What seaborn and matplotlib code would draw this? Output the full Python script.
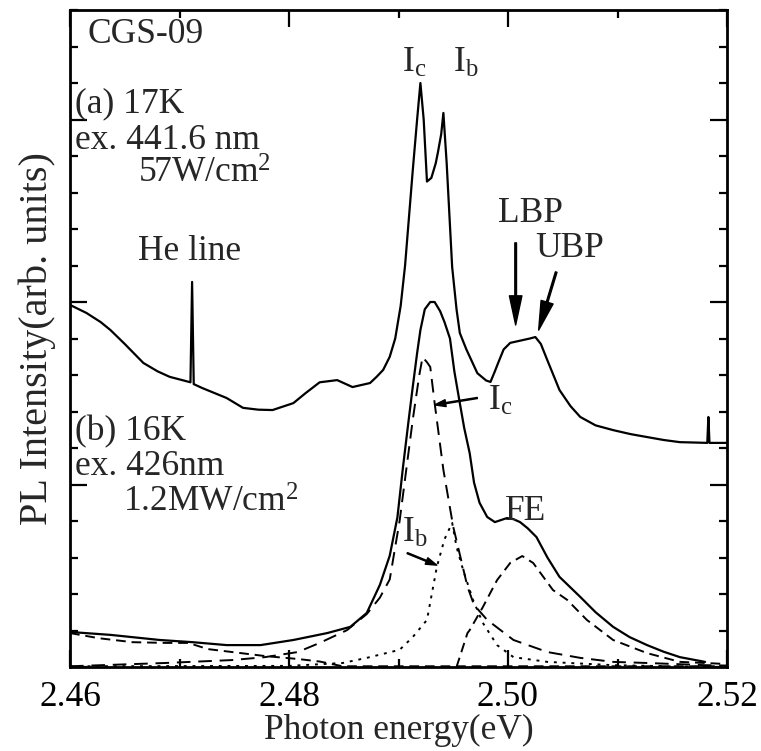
import numpy as np
import pandas as pd
import matplotlib
matplotlib.use("Agg")
import matplotlib.pyplot as plt
from matplotlib.ticker import MultipleLocator, NullFormatter
import seaborn as sns

sns.set_theme(style="ticks")
plt.rcParams["font.family"] = ["Liberation Serif", "DejaVu Serif"]
plt.rcParams["mathtext.fontset"] = "custom"
plt.rcParams["mathtext.rm"] = "Liberation Serif"
plt.rcParams["mathtext.it"] = "Liberation Serif:italic"

# (a) 17K spectrum (eV, arb. units)
a_energy = [2.4600, 2.4615, 2.4628, 2.4637, 2.4650, 2.4667, 2.4680, 2.4691, 2.4705,
            2.4710, 2.47115, 2.4713, 2.4721, 2.4743, 2.4758, 2.4772, 2.4785, 2.4804,
            2.4815, 2.4828, 2.4844, 2.4858, 2.4874, 2.4880, 2.4886, 2.4892, 2.4897,
            2.4902, 2.4906, 2.4913, 2.4917, 2.4920, 2.4923, 2.4926, 2.4930, 2.4934,
            2.4936, 2.4939, 2.4941, 2.4944, 2.4949, 2.4953, 2.4956, 2.4962, 2.4972,
            2.4980, 2.4984, 2.4988, 2.4991, 2.4996, 2.5002, 2.5008, 2.5014, 2.5020,
            2.5025, 2.5030, 2.5036, 2.5047, 2.5057, 2.5066, 2.5080, 2.5096, 2.5112,
            2.5127, 2.5142, 2.5157, 2.5170, 2.5182, 2.5183, 2.5184, 2.5200]
a_int = [9.92, 9.70, 9.45, 9.23, 8.85, 8.33, 8.10, 7.95, 7.84,
         7.80, 10.55, 7.75, 7.64, 7.37, 7.10, 7.05, 7.04, 7.23,
         7.50, 7.80, 7.86, 7.67, 7.78, 7.95, 8.14, 8.50, 9.00,
         9.90, 11.0, 13.6, 15.0, 16.0, 15.0, 13.3, 13.4, 13.8,
         14.1, 14.6, 15.18, 13.8, 10.96, 9.80, 9.15, 8.70, 8.05,
         7.85, 7.81, 8.10, 8.33, 8.70, 8.88, 8.92, 8.96, 9.00,
         9.04, 8.85, 8.40, 7.59, 7.15, 6.85, 6.62, 6.49, 6.38,
         6.30, 6.22, 6.16, 6.15, 6.14, 6.85, 6.14, 6.14]

# (b) 16K spectrum
b_energy = [2.4600, 2.4637, 2.4682, 2.4712, 2.4743, 2.4774, 2.4804, 2.4835, 2.4856,
            2.4871, 2.4883, 2.4892, 2.4899, 2.4904, 2.4909, 2.4913, 2.4917, 2.4920,
            2.4924, 2.4929, 2.4933, 2.4938, 2.4942, 2.4947, 2.4951, 2.4956, 2.4960,
            2.4965, 2.4969, 2.4974, 2.4981, 2.4988, 2.4994, 2.4999, 2.5005, 2.5011,
            2.5018, 2.5026, 2.5036, 2.5047, 2.5066, 2.5080, 2.5096, 2.5111, 2.5127,
            2.5142, 2.5157, 2.5180]
b_int = [0.96, 0.88, 0.74, 0.68, 0.60, 0.60, 0.74, 0.93, 1.10,
         1.48, 2.25, 3.05, 4.10, 5.45, 6.70, 7.67, 8.60, 9.23,
         9.80, 10.0, 10.0, 9.75, 9.45, 9.00, 8.10, 7.23, 6.55,
         5.86, 5.05, 4.50, 4.11, 3.97, 4.03, 4.08, 4.05, 3.97,
         3.80, 3.56, 3.00, 2.47, 1.92, 1.50, 1.10, 0.82, 0.60,
         0.42, 0.27, 0.14]

# fitted components of (b)
ic_energy = [2.4600, 2.4687, 2.4748, 2.4778, 2.4808, 2.4828, 2.4853, 2.4871, 2.4883,
             2.4892, 2.4901, 2.4913, 2.4919, 2.4922, 2.4926, 2.4929, 2.4933, 2.4941,
             2.4950, 2.4963, 2.4969, 2.4981, 2.5005, 2.5036, 2.5066, 2.5096, 2.5127,
             2.5180, 2.5200]
ic_int = [0.02, 0.11, 0.19, 0.27, 0.41, 0.66, 1.01, 1.45, 1.90,
          2.40, 4.00, 6.77, 8.00, 8.49, 8.35, 8.22, 7.23, 5.40,
          3.84, 2.20, 1.70, 1.29, 0.74, 0.41, 0.25, 0.14, 0.11,
          0.05, 0.04]

ib_energy = [2.4600, 2.4800, 2.4849, 2.4871, 2.4901, 2.4913, 2.4926, 2.4935, 2.4942,
             2.4949, 2.4953, 2.4959, 2.4968, 2.4977, 2.4990, 2.5005, 2.5036, 2.5096,
             2.5180]
ib_int = [0.02, 0.03, 0.11, 0.25, 0.47, 0.82, 1.29, 2.74, 3.50,
          3.95, 3.29, 2.66, 1.84, 1.21, 0.60, 0.27, 0.14, 0.05,
          0.00]

fe_energy = [2.4953, 2.4963, 2.4965, 2.4977, 2.4990, 2.5002, 2.5013, 2.5023, 2.5041,
             2.5054, 2.5072, 2.5096, 2.5127, 2.5157, 2.5180, 2.5200]
fe_int = [0.00, 0.93, 1.01, 1.64, 2.38, 2.85, 3.04, 2.85, 2.11,
          1.84, 1.29, 0.74, 0.38, 0.14, 0.11, 0.08]

bg_energy = [2.4600, 2.4626, 2.4657, 2.4687, 2.4708, 2.4726, 2.4748, 2.4778, 2.4808,
             2.4828, 2.4849, 2.5200]
bg_int = [0.93, 0.79, 0.68, 0.66, 0.66, 0.49, 0.41, 0.30, 0.22,
          0.15, 0.02, 0.02]

x_ticks = [2.46, 2.48, 2.50, 2.52]
x_labels = ["2.46", "2.48", "2.50", "2.52"]

FS = 25.5
fig = plt.figure(figsize=(7.61, 7.51), dpi=100)
ax = fig.add_axes([70 / 761, 1 - 667 / 751, 657 / 761, 657 / 751])

def draw(x, y, ls, lw):
    sns.lineplot(x=x, y=y, ax=ax, color="black", lw=lw, linestyle=ls,
                 estimator=None, sort=False)

draw(a_energy, a_int, "-", 1.6)
draw(b_energy, b_int, "-", 1.6)
draw(ic_energy, ic_int, (0, (7, 4)), 1.4)
draw(ib_energy, ib_int, (0, (1.5, 3)), 1.4)
draw(fe_energy, fe_int, (0, (5, 3)), 1.4)
draw(bg_energy, bg_int, (0, (5, 3)), 1.4)

ax.set_xlim(2.46, 2.52)
ax.set_ylim(0, 18)
ax.set_xticks(x_ticks)
ax.set_xticklabels(x_labels)
ax.xaxis.set_minor_locator(MultipleLocator(0.01))
ax.yaxis.set_major_locator(MultipleLocator(5))
ax.yaxis.set_minor_locator(MultipleLocator(1))
ax.yaxis.set_major_formatter(NullFormatter())
ax.tick_params(which="both", direction="in", top=True, right=True, width=1.6,
               labelsize=FS, pad=10, colors="black")
ax.tick_params(which="major", length=12)
ax.tick_params(which="minor", length=6)
for s in ax.spines.values():
    s.set_linewidth(2)
    s.set_color("black")

ax.set_xlabel("Photon energy(eV)", fontsize=FS, labelpad=0)
ax.set_ylabel("PL Intensity(arb. units)", fontsize=29, labelpad=0)

txt = dict(fontsize=FS, va="baseline", ha="left")
ax.text(2.4616, 17.1, "CGS-09", **txt)
ax.text(2.4605, 15.2, "(a) 17K", **txt)
ax.text(2.4605, 14.2, "ex. 441.6 nm", **txt)
ax.text(2.4662, 13.26, "57W/cm$^2$", **txt)
ax.text(2.4662, 11.15, "He line", **txt)
ax.text(2.4903, 16.3, "I$_\\mathrm{c}$", **txt)
ax.text(2.4950, 16.3, "I$_\\mathrm{b}$", **txt)
ax.text(2.4991, 12.19, "LBP", **txt)
ax.text(2.5025, 11.23, "UBP", **txt)
ax.text(2.4605, 6.22, "(b) 16K", **txt)
ax.text(2.4605, 5.26, "ex. 426nm", **txt)
ax.text(2.4648, 4.25, "1.2MW/cm$^2$", **txt)
ax.text(2.4982, 7.04, "I$_\\mathrm{c}$", **txt)
ax.text(2.4997, 4.03, "FE", **txt)
ax.text(2.4903, 3.42, "I$_\\mathrm{b}$", **txt)

big = dict(facecolor="black", edgecolor="black", width=1.2, headwidth=9,
           headlength=21, shrink=0)
small = dict(facecolor="black", edgecolor="black", width=0.8, headwidth=5,
             headlength=8, shrink=0)
ax.annotate("", xy=(2.5007, 9.37), xytext=(2.5007, 11.62), arrowprops=big)
ax.annotate("", xy=(2.5028, 9.23), xytext=(2.5044, 10.82), arrowprops=big)
ax.annotate("", xy=(2.4933, 7.18), xytext=(2.4972, 7.37), arrowprops=small)
ax.annotate("", xy=(2.4935, 2.79), xytext=(2.4908, 3.12), arrowprops=small)

fig.savefig("out.png", dpi=100)
